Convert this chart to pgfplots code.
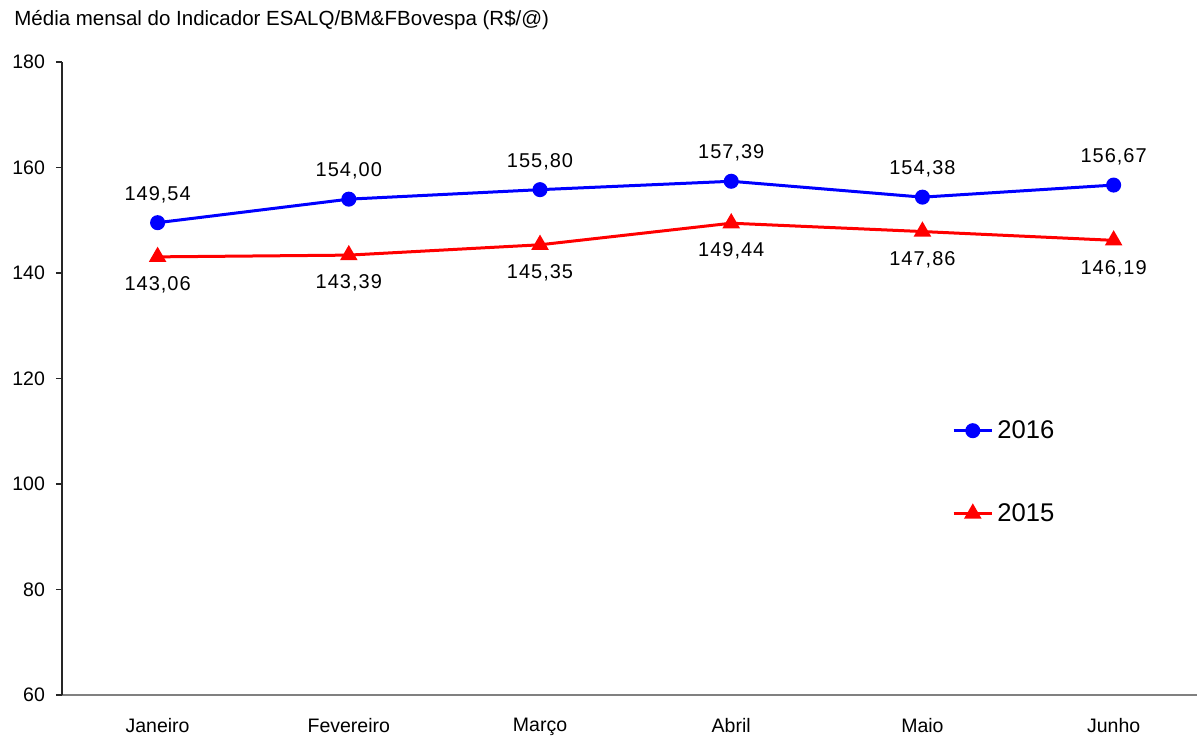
\documentclass[border=0pt]{standalone}
\usepackage{fontspec}
\setmainfont{Liberation Sans}
\newfontfamily\widefont[LetterSpace=5]{Liberation Sans}
\usepackage{pgfplots}
\pgfplotsset{compat=1.18}
\definecolor{pblue}{RGB}{0,0,255}
\definecolor{pred}{RGB}{255,0,0}
\begin{document}
\begin{tikzpicture}
\path[use as bounding box] (-31pt,-20.5pt) rectangle (567.5pt,347.5pt);
\begin{axis}[
  at={(0,0)}, anchor=south west,
  scale only axis, width=567.5pt, height=316.5pt,
  xmin=-0.5, xmax=5.436, ymin=60, ymax=180,
  axis x line*=bottom, axis y line*=left,
  x axis line style={draw=gray, line width=1pt, -},
  y axis line style={draw=black!85, line width=0.6pt, -},
  xtick={0,...,5}, xticklabels={Janeiro,Fevereiro,Março,Abril,Maio,Junho},
  xtick style={draw=none},
  ytick={60,80,...,180},
  ytick style={draw=black!85, line width=0.6pt},
  tick align=outside, major tick length=3pt,
  x tick label style={font=\fontsize{9.75}{12}\selectfont, yshift=-5.2pt},
  y tick label style={font=\fontsize{9.75}{12}\selectfont, xshift=-2pt},
  /pgf/number format/assume math mode=true,
  clip=false,
  legend style={draw=none, fill=none, at={(rel axis cs:0.784,0.441)}, anchor=north west, font=\fontsize{12.8}{14}\selectfont, row sep=27pt, inner sep=0pt},
  legend cell align=left,
  legend image code/.code={\draw[mark repeat=2,mark phase=2] plot coordinates {(0cm,0cm)(0.335cm,0cm)(0.67cm,0cm)};},
  nodes near coords={\pgfmathprintnumber[fixed,fixed zerofill,precision=2,use comma,assume math mode=true]{\pgfplotspointmeta}},
  every node near coord/.append style={font=\widefont\fontsize{10}{12}\selectfont, anchor=center, text=black},
]
\addplot[color=pblue, line width=1.5pt, mark=*, mark size=3pt, mark options={solid}, every node near coord/.append style={yshift=14pt}]
  coordinates {(0,149.54) (1,154.00) (2,155.80) (3,157.39) (4,154.38) (5,156.67)};
\addlegendentry{2016}
\addplot[color=pred, line width=1.5pt, mark=triangle*, mark size=3.6pt, mark options={solid}, every node near coord/.append style={yshift=-14pt}]
  coordinates {(0,143.06) (1,143.39) (2,145.35) (3,149.44) (4,147.86) (5,146.19)};
\addlegendentry{2015}
\node[anchor=west, inner sep=0pt, font=\fontsize{10.25}{12}\selectfont] at (rel axis cs:0,1) [xshift=-24pt, yshift=21pt] {Média mensal do Indicador ESALQ/BM\&FBovespa (R\$/@)};
\end{axis}
\end{tikzpicture}
\end{document}
